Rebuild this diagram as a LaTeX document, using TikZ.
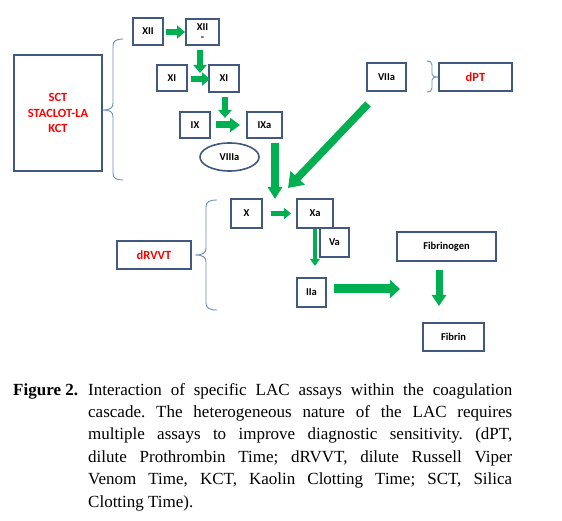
\documentclass[tikz,border=0pt]{standalone}
\usepackage{fontspec}
\setmainfont{Liberation Serif}
\newfontfamily\boxfont{Carlito}
\usetikzlibrary{arrows.meta,shapes.geometric,calc}
\definecolor{boxblue}{HTML}{41597F}
\definecolor{agreen}{HTML}{00B050}
\definecolor{bracecol}{HTML}{6D8FC0}
\definecolor{lacred}{HTML}{FF0000}
\frenchspacing
\begin{document}
\begin{tikzpicture}[x=1pt,y=-1pt,
  box/.style={draw=boxblue,line width=1.6pt,fill=white,inner sep=0pt,outer sep=0pt,align=center,
    font=\boxfont\bfseries\fontsize{10.5}{10.5}\selectfont},
  redtxt/.style={text=lacred,font=\boxfont\bfseries\fontsize{12.5}{15.5}\selectfont},
  garrow/.style={draw=agreen,line width=6pt,-{Triangle[length=8pt,width=13pt]}},
  brace/.style={draw=bracecol,line width=0.9pt},
  capline/.style={anchor=base west,inner sep=0pt,font=\fontsize{17}{22}\selectfont},
]
\useasboundingbox (0,0) rectangle (562,521);
\fill[white] (0,0) rectangle (562,521);

% assay boxes
\node[box,redtxt,minimum width=88pt,minimum height=116pt] (sct) at (58,113) {SCT\\STACLOT-LA\\KCT};
\node[box,redtxt,minimum width=73pt,minimum height=28pt] (dpt) at (475.5,77) {dPT};
\node[box,redtxt,minimum width=74pt,minimum height=28pt] (drvvt) at (154,255) {dRVVT};

% factor boxes
\node[box,minimum width=30pt,minimum height=27pt] (xii) at (148,31.5) {XII};
\node[box,minimum width=33pt,minimum height=26pt] (xiib) at (202.5,32) {XII\\[-1pt]-};
\node[box,minimum width=30pt,minimum height=26pt] (xil) at (172,78) {XI};
\node[box,minimum width=30pt,minimum height=27pt] (xir) at (224,78.5) {XI};
\node[box,minimum width=30pt,minimum height=26pt] (ix) at (195,125) {IX};
\node[box,minimum width=35pt,minimum height=26pt] (ixa) at (264.5,125) {IXa};
\node[box,ellipse,minimum width=59pt,minimum height=28pt] (viiia) at (229.5,157) {VIIIa};
\node[box,minimum width=39pt,minimum height=28pt] (viia) at (386.5,77) {VIIa};
\node[box,minimum width=31pt,minimum height=29pt] (x) at (246.5,213.5) {X};
\node[box,minimum width=36pt,minimum height=29pt] (xa) at (315,213.5) {Xa};
\node[box,minimum width=29pt,minimum height=29pt] (va) at (334.5,242.5) {Va};
\node[box,minimum width=29pt,minimum height=29pt] (iia) at (311.5,292.5) {IIa};
\node[box,minimum width=99pt,minimum height=29pt] (fbg) at (446.5,246.5) {Fibrinogen};
\node[box,minimum width=61pt,minimum height=28pt] (fbn) at (453.5,337) {Fibrin};

% braces
\draw[brace] (123,39) .. controls (116,39) and (113,41) .. (113,46) -- (113,103)
  .. controls (113,108) and (110,110) .. (103,110)
  .. controls (110,110) and (113,112) .. (113,117) -- (113,173)
  .. controls (113,178) and (116,180) .. (123,180);
\draw[brace] (217,200) .. controls (209,200) and (206,202) .. (206,207) -- (206,248)
  .. controls (206,253) and (203,255) .. (195,255)
  .. controls (203,255) and (206,257) .. (206,262) -- (206,303)
  .. controls (206,308) and (209,310) .. (217,310);
\draw[brace] (427,61) .. controls (430,61) and (432,62) .. (432,65) -- (432,74)
  .. controls (432,76) and (434,77) .. (438,77)
  .. controls (434,77) and (432,78) .. (432,80) -- (432,88)
  .. controls (432,91) and (430,92) .. (427,92);

% green arrows
\draw[garrow] ($(xii.east)+(3,0.5)$) -- ($(xii.east -| xiib.west)+(-1,0.5)$);
\draw[garrow] ($(xiib.south)+(-2.5,5)$) -- ($(xiib.south |- xir.north)+(-2.5,8)$);
\draw[garrow] ($(xil.east)+(4,1)$) -- ($(xil.east -| xir.west)+(1,1)$);
\draw[garrow] ($(xir.south)+(1,5)$) -- ($(xir.south)+(1,26)$);
\draw[garrow,line width=7pt,-{Triangle[length=10pt,width=14pt]}] ($(ix.east)+(6,0)$) -- ($(ix.east -| ixa.west)+(-7,0)$);
\draw[garrow,line width=7.5pt,-{Triangle[length=12pt,width=14pt]}] ($(ixa.south)+(10.5,5)$) -- ($(x.north -| ixa.south)+(10.5,0)$);
\draw[garrow,line width=7.5pt,-{Triangle[length=14pt,width=19pt]}] ($(viia.south west)+(1,13)$) -- ($(xa.north west)+(-9,-11)$);
\draw[garrow,line width=5pt,-{Triangle[length=7pt,width=11pt]}] ($(x.east)+(9,0)$) -- ($(x.east -| xa.west)+(-6,0)$);
\draw[garrow,line width=4.5pt,-{Triangle[length=7pt,width=9.5pt]}] ($(xa.south)+(0,0.8)$) -- ($(xa.south |- iia.north)+(0,-12)$);
\draw[garrow,line width=9pt,-{Triangle[length=10pt,width=18pt]}] ($(iia.east)+(8,-3.5)$) -- ($(iia.east -| fbg.west)+(3,-3.5)$);
\draw[garrow,line width=7pt,-{Triangle[length=11pt,width=14pt]}] ($(fbg.south)+(-7.5,9)$) -- ($(fbg.south |- fbn.north)+(-7.5,-17)$);

% caption
\node[capline,font=\bfseries\fontsize{17}{22}\selectfont] (figlbl) at (13,395) {Figure 2.};
\node[capline] (c1) at (88,395) {\makebox[424pt][s]{Interaction of specific LAC assays within the coagulation}};
\node[capline] (c2) at (88,417.4) {\makebox[424pt][s]{cascade. The heterogeneous nature of the LAC requires}};
\node[capline] (c3) at (88,439.8) {\makebox[424pt][s]{multiple assays to improve diagnostic sensitivity. (dPT,}};
\node[capline] (c4) at (88,462.2) {\makebox[424pt][s]{dilute Prothrombin Time; dRVVT, dilute Russell Viper}};
\node[capline] (c5) at (88,484.6) {\makebox[424pt][s]{Venom Time, KCT, Kaolin Clotting Time; SCT, Silica}};
\node[capline] (c6) at (88,507) {Clotting Time).};
\end{tikzpicture}
\end{document}
